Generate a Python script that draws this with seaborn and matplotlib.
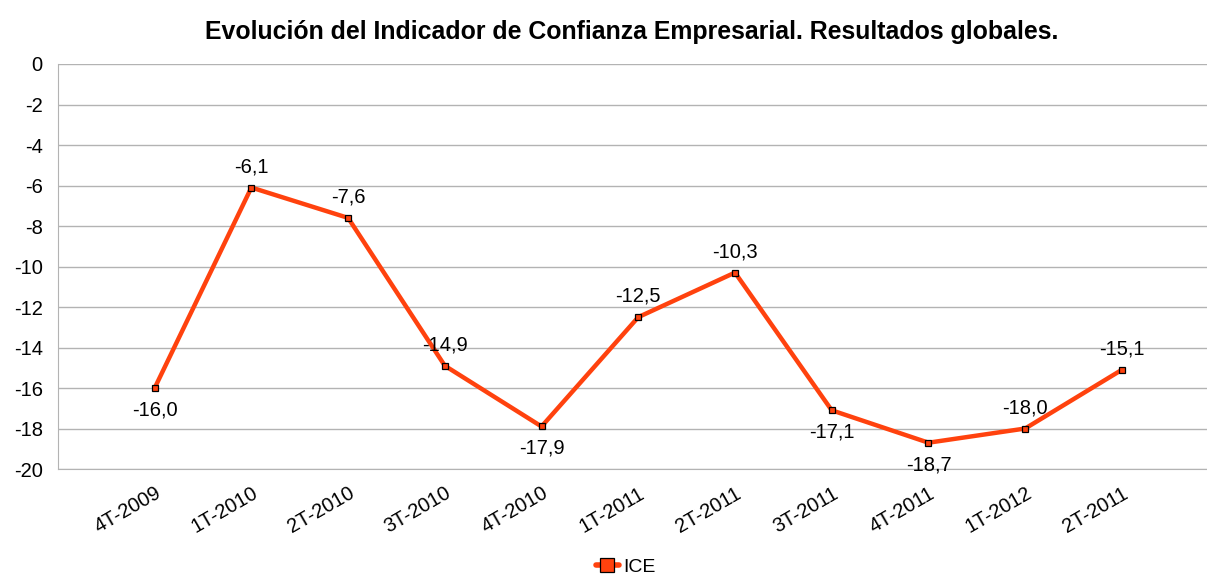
import matplotlib
matplotlib.use("Agg")
import matplotlib.pyplot as plt
import seaborn as sns
import pandas as pd

periods = ['4T-2009', '1T-2010', '2T-2010', '3T-2010', '4T-2010', '1T-2011',
           '2T-2011', '3T-2011', '4T-2011', '1T-2012', '2T-2011']
ice = [-16.0, -6.1, -7.6, -14.9, -17.9, -12.5, -10.3, -17.1, -18.7, -18.0, -15.1]
label_below = [True, False, False, False, True, False, False, True, True, False, False]

df = pd.DataFrame({'pos': range(len(periods)), 'periodo': periods, 'ICE': ice})

sns.set_style('white')
plt.rcParams['font.family'] = ['Liberation Sans', 'DejaVu Sans']
plt.rcParams['axes.unicode_minus'] = False
plt.rcParams['text.color'] = 'black'

fig = plt.figure(figsize=(12.07, 5.75), dpi=100)
ax = fig.add_axes([0.048, 0.1843, 0.952, 0.7044])

color = '#ff420e'
sns.lineplot(data=df, x='pos', y='ICE', sort=False, color=color, linewidth=3.2,
             marker='s', markersize=4, markerfacecolor=color, markeredgecolor='black',
             markeredgewidth=0.9, label='ICE', ax=ax)

for i, v in enumerate(ice):
    txt = f'{v:.1f}'.replace('.', ',')
    off = -22 if label_below[i] else 21
    ax.annotate(txt, (i, v), xytext=(0, off), textcoords='offset pixels',
                ha='center', va='center', fontsize=14.5, color='black')

ax.set_ylim(-20, 0)
ax.set_yticks(range(-20, 1, 2))
ax.set_xlim(-1, 10.88)
ax.set_xticks(list(range(-1, len(periods))))
ax.set_xticklabels([''] + periods)
ax.grid(axis='y', color='#b3b3b3', linewidth=1)
ax.set_axisbelow(True)
for s in ['top', 'right']:
    ax.spines[s].set_visible(False)
ax.spines['left'].set_color('#b3b3b3')
ax.spines['bottom'].set_color('#b3b3b3')
ax.tick_params(axis='both', colors='#b3b3b3', length=7, width=1, labelcolor='black',
               labelsize=14.5, direction='out')
ax.tick_params(axis='y', pad=4)
plt.setp(ax.get_xticklabels(), rotation=30, ha='right', rotation_mode='anchor')
ax.set_xlabel('')
ax.set_ylabel('')

fig.suptitle('Evolución del Indicador de Confianza Empresarial. Resultados globales.',
             fontsize=17.9, fontweight='bold', x=0.523, y=0.965, color='black')

leg = ax.legend(loc='center', bbox_to_anchor=(0.494, -0.242), frameon=False,
                fontsize=14, handlelength=1.2, handletextpad=0.2, borderaxespad=0)
for h in leg.legend_handles:
    h.set_markersize(10)
    h.set_linewidth(4)
for t in leg.get_texts():
    t.set_color('black')

fig.savefig('out.png', dpi=100)
